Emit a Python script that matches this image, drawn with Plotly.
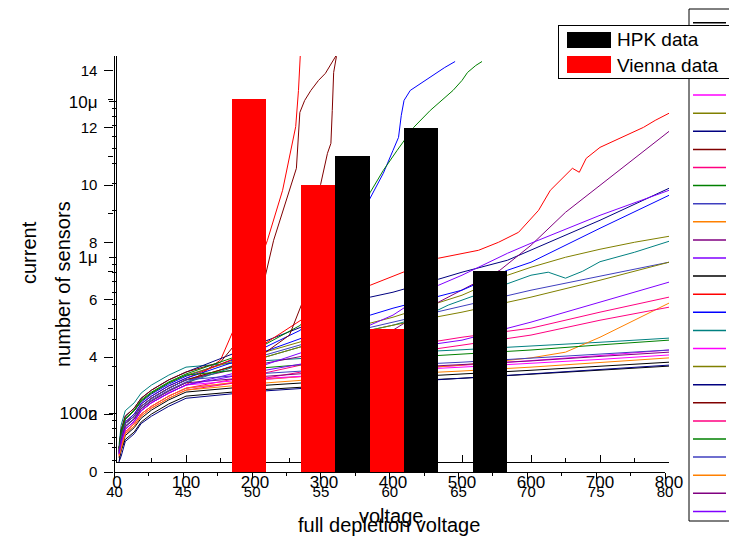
import plotly.graph_objects as go

W, H = 737, 536
OFF = 8  # the page body places the figure 8 px from the window's corner
FONT = "Liberation Sans, Arial, sans-serif"


def px(x):
    return (x - OFF) / W


def py(y):
    return 1 - (y - OFF) / H


# ---------------- IV curves (voltage in V, current in nA) ----------------
V_STD = [3, 6, 12, 25, 35, 50, 75, 100, 200, 300, 400, 500, 600, 700, 800]

V00 = V_STD
I00 = [49, 58, 68, 76, 88, 99, 115, 129, 141, 151, 160, 168, 179, 189, 201]
V01 = [3, 6, 12, 25, 35, 50, 75, 100, 150, 175, 200, 218, 240, 259, 263, 266]
I01 = [55, 65, 79, 89, 104, 117, 135, 152, 220, 396, 770, 1290, 2699, 6917, 11806, 21270]
V02 = [3, 6, 12, 25, 35, 50, 75, 100, 200, 266, 300, 340, 366, 386, 400, 408, 412, 416, 425, 440, 454, 475, 490]
I02 = [59, 74, 91, 104, 118, 133, 154, 173, 247, 342, 617, 1290, 2364, 3475, 4870, 5900, 8163, 10186, 11806, 13100, 14300, 16570, 18100]
V03 = V_STD
I03 = [63, 84, 104, 117, 135, 152, 176, 198, 216, 230, 244, 256, 270, 286, 304]
V04 = V_STD
I04 = [54, 62, 76, 86, 99, 111, 129, 145, 163, 177, 190, 203, 218, 235, 255]
V05 = [3, 6, 12, 25, 35, 50, 75, 100, 200, 300, 400, 466, 500, 566, 600, 650, 700, 750, 800]
I05 = [59, 75, 92, 104, 120, 135, 157, 176, 237, 318, 414, 510, 573, 770, 866, 1004, 1130, 1253, 1368]
V06 = [3, 6, 12, 25, 35, 50, 75, 100, 200, 300, 367, 400, 466, 500, 566, 600, 700, 800]
I06 = [60, 78, 96, 108, 125, 141, 164, 184, 274, 408, 557, 599, 726, 805, 961, 1113, 1734, 2780]
V07 = [3, 6, 12, 25, 35, 50, 75, 100, 150, 200, 227, 245, 260, 265, 272, 281, 292, 302, 314, 320]
I07 = [60, 78, 96, 108, 125, 141, 164, 184, 213, 396, 1290, 2329, 3737, 8530, 10186, 11806, 13683, 15190, 18380, 20590]
V08 = V_STD
I08 = [54, 62, 76, 86, 99, 111, 129, 145, 176, 220, 262, 308, 352, 446, 557]
V09 = [3, 6, 12, 25, 35, 50, 75, 100, 200, 266, 300, 340, 367, 386, 406, 430, 454, 470, 487, 500, 508, 520, 529]
I09 = [60, 76, 93, 105, 122, 137, 159, 179, 255, 368, 664, 1389, 2620, 3626, 4870, 6840, 8788, 10186, 11806, 13683, 15400, 17073, 18100]
V10 = V_STD
I10 = [56, 68, 83, 93, 108, 122, 141, 159, 227, 304, 385, 488, 617, 759, 933]
V11 = [3, 6, 12, 25, 35, 50, 75, 100, 200, 300, 400, 500, 600, 650, 700, 750, 800]
I11 = [54, 62, 76, 86, 99, 111, 129, 145, 164, 176, 190, 204, 227, 247, 308, 396, 510]
V12 = [3, 6, 12, 25, 35, 50, 75, 100, 200, 300, 400, 466, 555, 600, 650, 700, 750, 800]
I12 = [57, 70, 86, 96, 111, 125, 145, 164, 204, 247, 342, 517, 829, 1199, 1950, 2906, 4336, 6446]
V13 = [3, 6, 12, 25, 35, 50, 75, 100, 200, 300, 400, 466, 500, 566, 600, 700, 800]
I13 = [55, 65, 79, 89, 104, 117, 135, 152, 195, 274, 427, 664, 770, 1065, 1235, 1866, 2699]
V14 = V_STD
I14 = [52, 58, 72, 81, 93, 105, 122, 137, 150, 160, 170, 179, 189, 201, 213]
V15 = [3, 6, 12, 25, 35, 50, 75, 100, 200, 300, 367, 414, 466, 524, 553, 582, 611, 628, 647, 660, 670, 680, 700, 729, 763, 780, 800]
I15 = [58, 72, 88, 99, 115, 129, 150, 168, 255, 495, 664, 805, 990, 1113, 1253, 1452, 2009, 2699, 3268, 3737, 3523, 4328, 5090, 5814, 6840, 7583, 8428]
V16 = [3, 6, 12, 25, 35, 50, 75, 100, 200, 300, 367, 400, 500, 566, 600, 700, 800]
I16 = [58, 72, 88, 99, 115, 129, 150, 168, 237, 342, 427, 473, 617, 829, 933, 1541, 2507]
V17 = [3, 6, 12, 25, 35, 50, 75, 100, 200, 300, 400, 450, 480, 500, 550, 600, 625, 650, 675, 700, 750, 800]
I17 = [56, 67, 82, 92, 107, 120, 139, 157, 220, 295, 368, 427, 495, 533, 645, 770, 805, 737, 817, 940, 1081, 1271]
V18 = V_STD
I18 = [55, 65, 79, 89, 104, 117, 135, 152, 166, 177, 188, 198, 209, 222, 237]
V19 = V_STD
I19 = [57, 70, 86, 96, 111, 125, 145, 164, 220, 295, 368, 446, 557, 715, 933]
V20 = V_STD
I20 = [49, 53, 66, 74, 86, 96, 111, 125, 138, 148, 158, 168, 179, 191, 204]
V21 = [3, 6, 12, 25, 35, 50, 75, 100, 200, 250, 270, 285, 295, 305, 310, 312, 314, 318, 321]
I21 = [57, 70, 86, 96, 111, 125, 145, 164, 220, 318, 533, 1496, 2933, 4659, 5400, 8788, 15400, 19490, 21270]
V22 = V_STD
I22 = [53, 60, 74, 83, 96, 108, 125, 141, 164, 195, 237, 274, 318, 396, 480]
V23 = V_STD
I23 = [59, 75, 92, 104, 120, 135, 157, 176, 194, 211, 226, 240, 255, 275, 295]
V24 = V_STD
I24 = [57, 70, 86, 96, 111, 125, 145, 164, 179, 191, 203, 213, 226, 240, 255]
V25 = V_STD
I25 = [53, 60, 74, 83, 96, 108, 125, 141, 155, 167, 178, 187, 198, 212, 227]
V26 = V_STD
I26 = [56, 67, 82, 92, 107, 120, 139, 157, 171, 184, 195, 206, 217, 232, 247]
V27 = V_STD
I27 = [55, 65, 79, 89, 104, 117, 135, 152, 184, 220, 255, 295, 385, 517, 695]

VOLTAGES = [V00, V01, V02, V03, V04, V05, V06, V07, V08, V09, V10, V11, V12, V13,
            V14, V15, V16, V17, V18, V19, V20, V21, V22, V23, V24, V25, V26, V27]
CURRENTS = [I00, I01, I02, I03, I04, I05, I06, I07, I08, I09, I10, I11, I12, I13,
            I14, I15, I16, I17, I18, I19, I20, I21, I22, I23, I24, I25, I26, I27]

SENSOR_LABELS = ["01", "02", "03", "04", "05", "06", "08", "10", "11", "13", "15", "17", "20", "21",
                 "22", "23", "24", "25", "27", "29", "30", "31", "32", "33", "34", "36", "37", "39"]

COLOR_CYCLE = ["#000000", "#FF0000", "#0000FF", "#008080", "#FF00FF", "#808000", "#000080",
               "#800000", "#FF0080", "#008000", "#3F3FBF", "#FF8000", "#800080", "#8000FF"]

# ---------------- histogram of full depletion voltage ----------------
BIN_CENTERS = [51, 56, 61, 66]
VIENNA_COUNTS = [13, 10, 5, 0]
HPK_COUNTS = [0, 11, 12, 7]

fig = go.Figure()

for k, (v, cur) in enumerate(zip(VOLTAGES, CURRENTS)):
    fig.add_trace(go.Scatter(
        x=v, y=[c * 1e-9 for c in cur], mode="lines",
        line=dict(color=COLOR_CYCLE[k % len(COLOR_CYCLE)], width=1),
        name=SENSOR_LABELS[k], showlegend=False, hoverinfo="skip",
        xaxis="x", yaxis="y"))

fig.add_trace(go.Bar(x=BIN_CENTERS, y=VIENNA_COUNTS, name="Vienna data",
                     marker=dict(color="#FF0000", line=dict(width=0)),
                     showlegend=False, xaxis="x2", yaxis="y2"))
fig.add_trace(go.Bar(x=BIN_CENTERS, y=HPK_COUNTS, name="HPK data",
                     marker=dict(color="#000000", line=dict(width=0)),
                     showlegend=False, xaxis="x2", yaxis="y2"))

axis_common = dict(showline=True, linecolor="black", linewidth=1.3, tickcolor="black",
                   tickwidth=1.3, showgrid=False, zeroline=False, automargin=False)

shapes = []
annotations = []

# legend of the IV curves (cut by the page edge)
shapes.append(dict(type="rect", xref="paper", yref="paper", x0=px(689), x1=px(790),
                   y0=py(521), y1=py(9), line=dict(color="black", width=1),
                   fillcolor="white", layer="above"))
for k, lab in enumerate(SENSOR_LABELS):
    yk = 22.7 + 18.1 * k
    shapes.append(dict(type="line", xref="paper", yref="paper", x0=px(693), x1=px(726),
                       y0=py(yk), y1=py(yk),
                       line=dict(color=COLOR_CYCLE[k % len(COLOR_CYCLE)], width=1.5),
                       layer="above"))
    annotations.append(dict(text=lab, xref="paper", yref="paper", x=px(729), y=py(yk),
                            xanchor="left", yanchor="middle", showarrow=False,
                            font=dict(size=13, color="black", family=FONT)))

# legend of the histogram
annotations.append(dict(text=" ", xref="paper", yref="paper", x=px(558), y=py(25),
                        xanchor="left", yanchor="top", showarrow=False, width=174, height=52,
                        bgcolor="white", bordercolor="black", borderwidth=1, borderpad=0))
for name, col, ytop, hgt, ytxt in [("HPK data", "#000000", 32, 16, 40),
                                    ("Vienna data", "#FF0000", 56, 17, 65)]:
    annotations.append(dict(text=" ", xref="paper", yref="paper", x=px(567), y=py(ytop),
                            xanchor="left", yanchor="top", showarrow=False, width=44,
                            height=hgt, bgcolor=col, borderwidth=0, borderpad=0))
    annotations.append(dict(text=name, xref="paper", yref="paper", x=px(615), y=py(ytxt),
                            xanchor="left", yanchor="middle", showarrow=False,
                            font=dict(size=19, color="black", family=FONT)))

# axis titles
for txt, x, y, ang in [("current", 29, 253, -90), ("number of sensors", 63, 284, -90),
                       ("voltage", 392, 516, 0), ("full depletion voltage", 389, 525, 0)]:
    annotations.append(dict(text=txt, xref="paper", yref="paper", x=px(x), y=py(y),
                            xanchor="center", yanchor="middle", textangle=ang,
                            showarrow=False, font=dict(size=20, color="black", family=FONT)))

fig.update_layout(
    width=W, height=H, margin=dict(l=0, r=0, t=0, b=0, autoexpand=False),
    paper_bgcolor="white", plot_bgcolor="rgba(0,0,0,0)",
    font=dict(family=FONT, color="black"),
    barmode="group", bargap=0, bargroupgap=0,
    showlegend=False,
    xaxis=dict(domain=[px(117), px(669)], range=[0, 800], anchor="y",
               ticks="inside", ticklen=7, dtick=100, tick0=0,
               minor=dict(ticks="inside", ticklen=4, dtick=50, tickcolor="black", tickwidth=1.3),
               tickfont=dict(size=17), ticklabelstandoff=4, **axis_common),
    yaxis=dict(domain=[py(462), py(56)], type="log", range=[-7.312, -4.707], anchor="x",
               ticks="outside", ticklen=7, dtick=1, exponentformat="SI",
               minor=dict(ticks="outside", ticklen=4, dtick="D1", tickcolor="black", tickwidth=1.3),
               tickfont=dict(size=17), ticklabelstandoff=8, **axis_common),
    xaxis2=dict(domain=[px(114.5), px(665)], range=[40, 80], anchor="y2",
                ticks="outside", ticklen=6, dtick=5, tick0=40,
                minor=dict(ticks="outside", ticklen=3, dtick=2.5, tickcolor="black", tickwidth=1.3),
                tickfont=dict(size=15), **axis_common),
    yaxis2=dict(domain=[py(472), py(56)], range=[0, 14.5], anchor="x2",
                ticks="outside", ticklen=9, dtick=2, tick0=0,
                minor=dict(ticks="outside", ticklen=5, dtick=1, tickcolor="black", tickwidth=1.3),
                tickfont=dict(size=15), ticklabelstandoff=4, **axis_common),
    shapes=shapes, annotations=annotations,
)

fig.write_html("out.html")
